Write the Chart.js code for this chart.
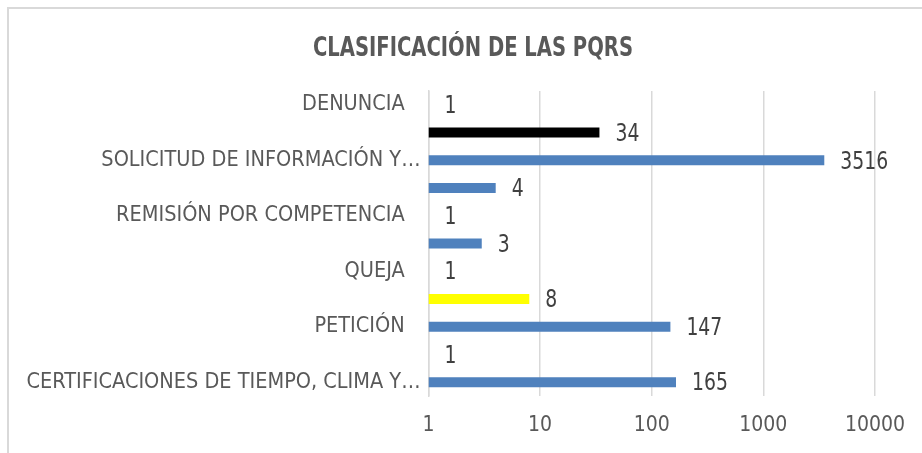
<!DOCTYPE html>
<html lang="es">
<head>
  <meta charset="UTF-8">
  <title>Clasificación de las PQRS</title>
  <script src="https://cdn.jsdelivr.net/npm/chart.js"></script>
  <style>
    body {
      margin: 0;
      background: #fff;
    }
    .wrap {
      position: relative;
      width: 922px;
      height: 453px;
      overflow: hidden;
    }
    .frame {
      position: absolute;
      left: 7px;
      top: 7px;
      width: 1000px;
      height: 1000px;
      border-left: 2px solid #d9d9d9;
      border-top: 2px solid #d9d9d9;
    }
    canvas {
      position: absolute;
      left: 0;
      top: 0;
    }
  </style>
</head>
<body>

<div class="wrap">
  <div class="frame"></div>
  <canvas id="pqrs" width="922" height="453"></canvas>
</div>

<script>
// datos (de arriba hacia abajo, como se ven en la gráfica)
const categories = [
  'DENUNCIA',
  '',
  'SOLICITUD DE INFORMACIÓN Y…',
  '',
  'REMISIÓN POR COMPETENCIA',
  '',
  'QUEJA',
  '',
  'PETICIÓN',
  '',
  'CERTIFICACIONES DE TIEMPO, CLIMA Y…'
];
const counts = [1, 34, 3516, 4, 1, 3, 1, 8, 147, 1, 165];
const xTicks = [1, 10, 100, 1000, 10000];
const chartTitle = 'CLASIFICACIÓN DE LAS PQRS';

// colores de cada barra
const barColors = [
  '#4f81bd', '#000000', '#4f81bd', '#4f81bd', '#4f81bd', '#4f81bd',
  '#4f81bd', '#ffff00', '#4f81bd', '#4f81bd', '#4f81bd'
];

const narrow = "'Liberation Sans Narrow', 'Arial Narrow', 'DejaVu Sans Condensed', sans-serif";

// texto estrechado en horizontal (la fuente original es angosta)
function narrowText(ctx, text, x, y, sx) {
  ctx.save();
  ctx.translate(x, y);
  ctx.scale(sx, 1);
  ctx.fillText(text, 0, 0);
  ctx.restore();
}

// título
const titlePlugin = {
  id: 'titlePlugin',
  afterDraw(chart) {
    const ctx = chart.ctx;
    ctx.save();
    ctx.font = `bold 26px ${narrow}`;
    ctx.fillStyle = '#595959';
    ctx.textAlign = 'center';
    ctx.textBaseline = 'middle';
    const sx = Math.min(1, 320 / ctx.measureText(chartTitle).width);
    narrowText(ctx, chartTitle, 473, 49.5, sx);
    ctx.restore();
  }
};

// etiquetas de valor al final de cada barra
const valueLabels = {
  id: 'valueLabels',
  afterDatasetsDraw(chart) {
    const ctx = chart.ctx;
    const meta = chart.getDatasetMeta(0);
    ctx.save();
    ctx.font = `24px ${narrow}`;
    ctx.fillStyle = '#404040';
    ctx.textAlign = 'left';
    ctx.textBaseline = 'middle';
    meta.data.forEach((bar, i) => {
      narrowText(ctx, String(counts[i]), bar.x + 16, bar.y + 2, 0.87);
    });
    ctx.restore();
  }
};

new Chart(document.getElementById('pqrs'), {
  type: 'bar',
  data: {
    labels: categories,
    datasets: [{
      data: counts,
      backgroundColor: barColors,
      borderWidth: 0,
      categoryPercentage: 1,
      barPercentage: 0.36
    }]
  },
  options: {
    indexAxis: 'y',
    responsive: false,
    animation: false,
    layout: { padding: { left: 0, right: 46, top: 91, bottom: 0 } },
    plugins: {
      legend: { display: false },
      tooltip: { enabled: false },
      title: { display: false }
    },
    scales: {
      x: {
        type: 'logarithmic',
        min: 1,
        max: 10000,
        afterBuildTicks: scale => {
          scale.ticks = xTicks.map(v => ({ value: v }));
        },
        afterFit: scale => { scale.height = 57; },
        grid: { color: '#d9d9d9', lineWidth: 1.5, drawTicks: false },
        border: { display: false },
        ticks: {
          color: '#595959',
          font: { family: narrow, size: 21 },
          padding: 17,
          callback: v => String(v)
        }
      },
      y: {
        afterFit: scale => { scale.width = 428.5; },
        grid: { display: false, drawTicks: false },
        border: { display: true, color: '#d9d9d9', width: 1.5 },
        ticks: {
          color: '#595959',
          font: { family: narrow, size: 21.5 },
          padding: 8,
          autoSkip: false,
          // las etiquetas completas quedan un poco separadas del eje
          callback: function (v) {
            const s = this.getLabelForValue(v);
            return s && !s.endsWith('…') ? s + '\u2002 ' : s;
          }
        }
      }
    }
  },
  plugins: [valueLabels, titlePlugin]
});
</script>

</body>
</html>
